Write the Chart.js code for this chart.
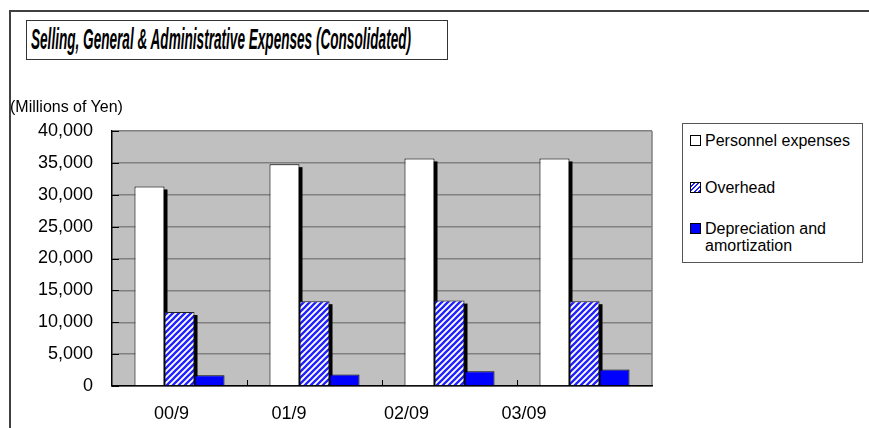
<!DOCTYPE html>
<html><head><meta charset="utf-8">
<script src="https://cdn.jsdelivr.net/npm/chart.js@4/dist/chart.umd.min.js"></script>
<style>
html,body{margin:0;padding:0;background:#fff;}
#wrap{position:relative;width:869px;height:428px;overflow:hidden;font-family:"Liberation Sans",Arial,sans-serif;color:#000;}
#frame{position:absolute;left:9px;top:10px;width:900px;height:500px;border-top:2px solid #404040;border-left:2px solid #404040;}
#titlebox{position:absolute;left:26px;top:20px;width:420px;height:38px;border:1px solid #333;background:#fff;}
#title{position:absolute;left:31px;top:22px;font:italic bold 30px "Liberation Sans",Arial,sans-serif;white-space:nowrap;transform-origin:left top;line-height:34px;}
#unit{position:absolute;left:10px;top:98px;font-size:16px;line-height:18px;white-space:nowrap;}
#legend{position:absolute;left:682px;top:123px;width:179px;height:138px;border:1px solid #555;background:#fff;}
.item{position:absolute;left:7px;font-size:16px;line-height:17px;white-space:nowrap;}
.mk{position:absolute;left:0;top:3px;width:9px;height:9px;border:1px solid #000;}
.lt{position:absolute;left:15px;top:0;}
canvas{position:absolute;left:0;top:0;}
</style></head>
<body>
<div id="wrap">
  <div id="frame"></div>
  <canvas id="c" width="869" height="428"></canvas>
  <div id="titlebox"></div>
  <div id="title">Selling, General &amp; Administrative Expenses (Consolidated)</div>
  <div id="unit">(Millions of Yen)</div>
  <div id="legend"></div>
</div>
<script>
const categories = ['00/9', '01/9', '02/09', '03/09'];
const seriesNames = ['Personnel expenses', 'Overhead', 'Depreciation and\namortization'];
const personnel = [31300, 34800, 35700, 35700];
const overhead = [11600, 13300, 13400, 13300];
const depreciation = [1700, 1800, 2300, 2600];
const yMin = 0, yMax = 40000, yStep = 5000;

function makeHatch() {
  const t = document.createElement('canvas');
  t.width = 6; t.height = 6;
  const g = t.getContext('2d');
  g.fillStyle = '#ffffff'; g.fillRect(0, 0, 6, 6);
  g.strokeStyle = '#1f1fff'; g.lineWidth = 2.3;
  g.beginPath();
  g.moveTo(-3, 3); g.lineTo(3, -3);
  g.moveTo(0, 6); g.lineTo(6, 0);
  g.moveTo(3, 9); g.lineTo(9, 3);
  g.stroke();
  return g.createPattern(t, 'repeat');
}
const ctx = document.getElementById('c').getContext('2d');
const hatch = makeHatch();
const fills = ['#ffffff', hatch, '#0000ff'];
const legendCss = ['#ffffff', 'repeating-linear-gradient(-45deg,#1f1fff 0 1.6px,#ffffff 1.6px 3.2px)', '#0000ff'];

const tEl = document.getElementById('title');
tEl.style.transform = 'scaleX(' + (380 / tEl.offsetWidth) + ')';

const lg = document.getElementById('legend');
const tops = [8, 55, 96];
seriesNames.forEach((n, i) => {
  const it = document.createElement('div');
  it.className = 'item'; it.style.top = tops[i] + 'px';
  const mk = document.createElement('span'); mk.className = 'mk'; mk.style.background = legendCss[i];
  const tx = document.createElement('span'); tx.className = 'lt';
  tx.innerHTML = n.split('\n').join('<br>');
  it.appendChild(mk); it.appendChild(tx); lg.appendChild(it);
});

const bgPlugin = {
  id: 'bg',
  beforeDraw(chart) {
    const a = chart.chartArea, c = chart.ctx;
    c.save();
    c.fillStyle = '#c0c0c0';
    c.fillRect(a.left, a.top, a.right - a.left, a.bottom - a.top);
    c.strokeStyle = '#808080'; c.lineWidth = 1.5;
    c.beginPath(); c.moveTo(a.right, a.top); c.lineTo(a.right, a.bottom); c.stroke();
    c.restore();
  },
  beforeDatasetsDraw(chart) {
    const c = chart.ctx;
    c.save(); c.fillStyle = '#000';
    [0, 1].forEach(di => {
      chart.getDatasetMeta(di).data.forEach(el => {
        const p = el.getProps(['x', 'y', 'base', 'width'], true);
        c.fillRect(p.x - p.width / 2 + 3, p.y + 3, p.width, p.base - p.y - 3);
      });
    });
    c.restore();
  },
  afterDraw(chart) {
    const c = chart.ctx, a = chart.chartArea;
    const ys = chart.scales.y, xs = chart.scales.x;
    c.save(); c.strokeStyle = '#000'; c.lineWidth = 1;
    c.beginPath();
    for (let v = yMin; v <= yMax; v += yStep) {
      const py = Math.round(ys.getPixelForValue(v)) + 0.5;
      c.moveTo(a.left, py); c.lineTo(a.left + 7, py);
    }
    const half = (xs.getPixelForValue(1) - xs.getPixelForValue(0)) / 2;
    for (let i = 0; i < categories.length - 1; i++) {
      const px = Math.round(xs.getPixelForValue(i) + half) + 0.5;
      c.moveTo(px, a.bottom); c.lineTo(px, a.bottom - 6);
    }
    c.stroke();
    c.restore();
  }
};

new Chart(ctx, {
  type: 'bar',
  data: {
    labels: categories,
    datasets: [
      { label: seriesNames[0], data: personnel, backgroundColor: fills[0], borderColor: '#000', borderWidth: 1 },
      { label: seriesNames[1], data: overhead, backgroundColor: fills[1], borderColor: '#222', borderWidth: 1 },
      { label: seriesNames[2], data: depreciation, backgroundColor: fills[2], borderColor: '#000', borderWidth: 1 }
    ]
  },
  options: {
    responsive: false,
    animation: false,
    devicePixelRatio: 1,
    datasets: { bar: { barPercentage: 1, categoryPercentage: 0.667 } },
    layout: { padding: { top: 131, right: 217, left: 0, bottom: 0 } },
    plugins: { legend: { display: false }, tooltip: { enabled: false }, title: { display: false } },
    scales: {
      x: {
        type: 'category', position: 'bottom',
        grid: { display: false },
        border: { display: true, color: '#000', width: 1.5 },
        ticks: { display: false },
        afterFit(s) { s.height = 0; }
      },
      xl: {
        type: 'linear', position: 'bottom', bounds: 'data', offset: false,
        min: -0.506, max: 4.089,
        grid: { display: false, drawTicks: false, offset: false },
        border: { display: false },
        ticks: {
          autoSkip: false, maxRotation: 0, minRotation: 0, padding: 17,
          color: '#000', font: { family: 'Liberation Sans', size: 18 },
          callback: v => (categories[v] !== undefined) ? categories[v] : ''
        },
        afterBuildTicks(s) { s.ticks = categories.map((c, i) => ({ value: i })); },
        afterFit(s) { s.height = 42; }
      },
      y: {
        min: yMin, max: yMax,
        grid: { color: '#808080', lineWidth: 1.5, drawTicks: false },
        border: { display: true, color: '#000', width: 1.5 },
        ticks: {
          stepSize: yStep, padding: 19, color: '#000',
          font: { family: 'Liberation Sans', size: 18 },
          callback: v => v.toLocaleString('en-US')
        },
        afterFit(s) { s.width = 112; }
      }
    }
  },
  plugins: [bgPlugin]
});
</script>
</body></html>
